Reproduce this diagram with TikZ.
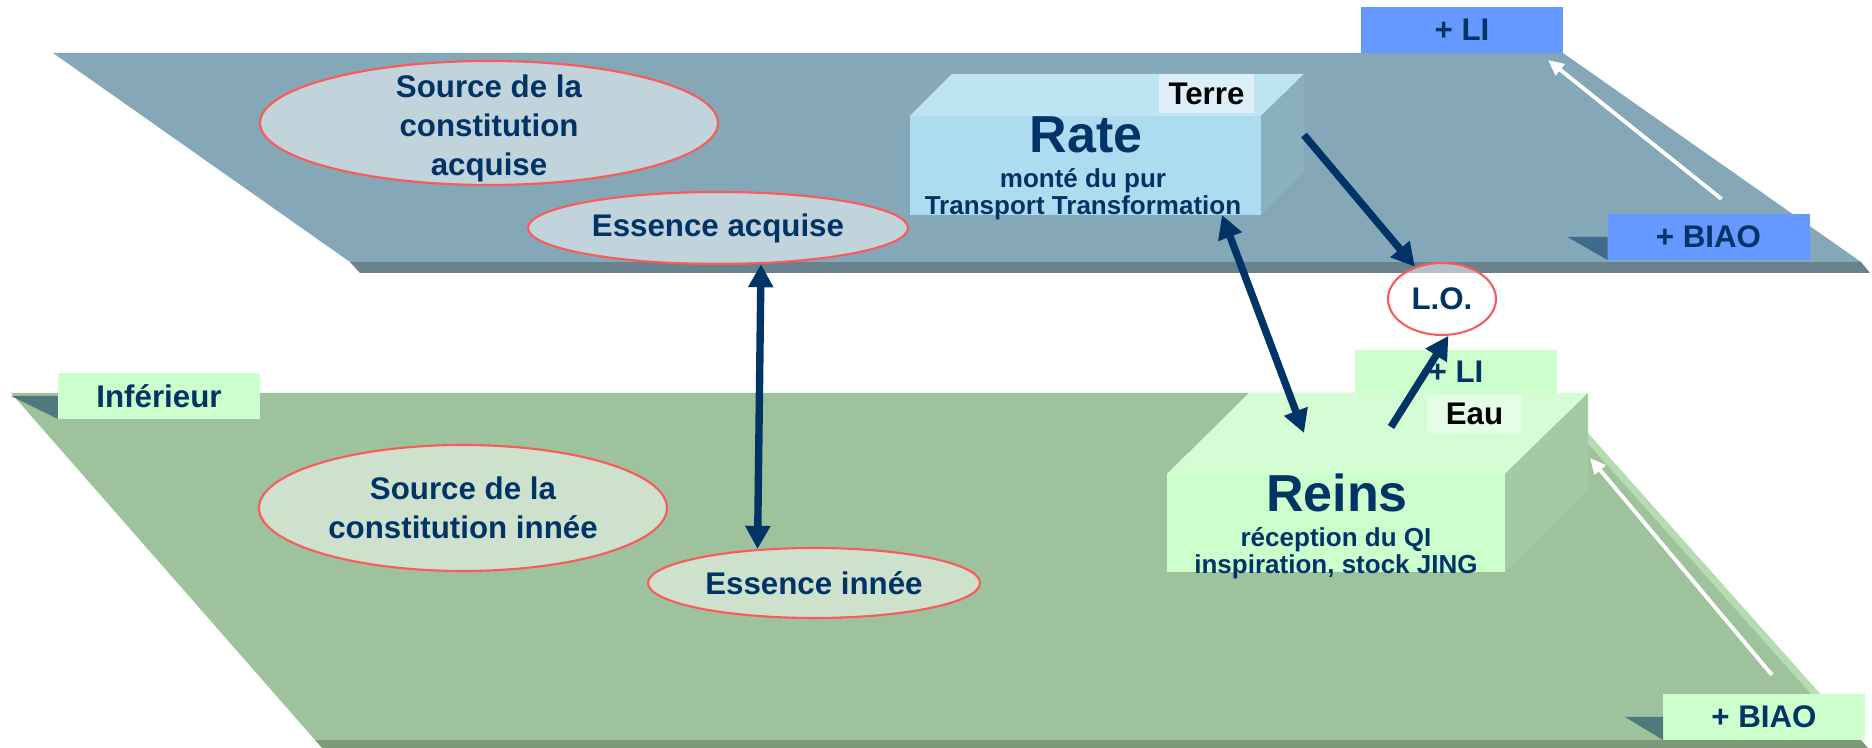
\documentclass[tikz,border=0pt]{standalone}
\usepackage{fontspec}
\setmainfont{Liberation Sans}
\usetikzlibrary{arrows.meta,shapes.geometric}
\definecolor{navyink}{RGB}{0,51,102}
\definecolor{deckgrey}{RGB}{132,168,184}
\definecolor{deckshade}{RGB}{104,130,142}
\definecolor{meadow}{RGB}{158,195,156}
\definecolor{meadowshade}{RGB}{122,154,120}
\definecolor{meadowrim}{RGB}{182,220,178}
\definecolor{iceblue}{RGB}{173,220,240}
\definecolor{icetop}{RGB}{190,227,243}
\definecolor{iceside}{RGB}{138,176,192}
\definecolor{frost}{RGB}{221,239,248}
\definecolor{cornflower}{RGB}{102,153,255}
\definecolor{duskblue}{RGB}{64,106,138}
\definecolor{mint}{RGB}{204,255,204}
\definecolor{minttop}{RGB}{212,253,212}
\definecolor{sage}{RGB}{163,203,161}
\definecolor{mintwhite}{RGB}{229,252,229}
\definecolor{pinetone}{RGB}{78,122,126}
\definecolor{coral}{RGB}{250,90,90}

\begin{document}
\begin{tikzpicture}[
    font=\fontsize{8.9}{11.1}\selectfont\bfseries,
    >={Triangle[length=6.6pt,width=6.8pt]},
    zone/.style={ellipse,draw=coral,line width=0.6pt,fill=white,fill opacity=0.5,
      text opacity=1,text=navyink,inner sep=0pt,align=center},
    tag/.style={rectangle,inner sep=0pt,outer sep=0pt,minimum width=2.02cm,
      minimum height=0.46cm,text=navyink},
    face/.style={rectangle,inner sep=0pt,outer sep=0pt},
    title/.style={text=navyink,font=\fontsize{14.8}{16}\selectfont\bfseries,anchor=base},
    note/.style={text=navyink,font=\fontsize{7.4}{7.7}\selectfont\bfseries,align=center},
    flow/.style={->,line width=2.1pt,navyink},
    rise/.style={-{Triangle[length=4.5pt,width=4pt]},line width=1.1pt,white},
  ]
  \useasboundingbox (0,0) rectangle (18.72,7.48);

  % Upper plane (acquis)
  \fill[deckshade] (3.50,4.86) -- (18.61,4.86) -- (18.70,4.75) -- (3.60,4.75) -- cycle;
  \fill[deckgrey] (0.53,6.95) -- (15.63,6.95) -- (18.61,4.86) -- (3.50,4.86) -- cycle;

  \node[tag,fill=cornflower] (topli) at (14.62,7.18) {+ LI};
  \node[tag,fill=cornflower] (topbiao) at (17.085,5.11) {+ BIAO};
  \fill[duskblue] ([xshift=-0.4cm]topbiao.west) -- (topbiao.west) -- (topbiao.south west) -- cycle;
  \draw[rise] ([xshift=1.3mm,yshift=1.5mm]topbiao.north)
    -- ([xshift=-1.5mm,yshift=-0.7mm]topli.south east);

  \node[zone,minimum width=4.58cm,minimum height=1.24cm] (srcacq) at (4.89,6.25) {};
  \node[text=navyink,align=center] (srcacq-text) at (4.89,6.20)
    {Source de la\\constitution\\acquise};
  \node[zone,minimum width=3.80cm,minimum height=0.72cm] (essacq) at (7.18,5.20)
    {Essence acquise};

  % Rate block
  \node[face,fill=iceblue,minimum width=3.51cm,minimum height=0.99cm] (rate) at (10.855,5.825) {};
  \fill[icetop] (rate.north west) -- ++(0.42,0.42) -- ++(3.52,0) -- (rate.north east) -- cycle;
  \fill[iceside] (rate.north east) -- ++(0.43,0.42) -- ++(0,-0.98) -- (rate.south east) -- cycle;
  \node[face,fill=frost,minimum width=0.95cm,minimum height=0.39cm] (terre) at (12.065,6.545) {Terre};
  \node[title] (rate-name) at (10.86,5.95) {Rate};
  \node[note] (rate-note) at (10.83,5.54) {monté du pur\\Transport Transformation};

  % Lower plane (inne)
  \fill[meadowshade] (3.15,0.08) -- (18.61,0.08) -- (18.68,0) -- (3.22,0) -- cycle;
  \fill[meadow] (0.11,3.55) -- (15.52,3.55) -- (18.61,0.08) -- (3.15,0.08) -- cycle;
  \fill[meadowrim] (15.52,3.55) -- (18.61,0.08) -- (18.52,0.08) -- (15.43,3.55) -- cycle;

  \node[tag,fill=mint] (inferieur) at (1.59,3.52) {Inférieur};
  \fill[pinetone] ([xshift=-0.47cm]inferieur.west) -- (inferieur.west) -- (inferieur.south west) -- cycle;
  \node[tag,fill=mint] (lowbiao) at (17.64,0.31) {+ BIAO};
  \fill[pinetone] ([xshift=-0.38cm]lowbiao.west) -- (lowbiao.west) -- (lowbiao.south west) -- cycle;
  \node[tag,fill=mint,minimum height=0.43cm] (lowli) at (14.56,3.765) {+ LI};

  % Reins block
  \node[face,fill=mint,minimum width=3.38cm,minimum height=0.98cm] (reins) at (13.36,2.25) {};
  \fill[minttop] (reins.north west) -- ++(0.82,0.81) -- ++(3.39,0) -- (reins.north east) -- cycle;
  \fill[sage] (reins.north east) -- ++(0.83,0.81) -- ++(0,-0.96) -- (reins.south east) -- cycle;
  \node[face,fill=mintwhite,minimum width=0.95cm,minimum height=0.38cm] (eau) at (14.745,3.34) {Eau};
  \node[title] (reins-name) at (13.37,2.36) {Reins};
  \node[note] (reins-note) at (13.36,1.95) {réception du QI\\inspiration, stock JING};
  \draw[rise] ([xshift=0.8mm,yshift=1.9mm]lowbiao.north)
    -- ([xshift=8.5mm,yshift=1.6mm]reins.north east);

  \node[zone,minimum width=4.08cm,minimum height=1.26cm] (srcinn) at (4.63,2.40)
    {Source de la\\constitution innée};
  \node[zone,minimum width=3.32cm,minimum height=0.70cm] (essinn) at (8.14,1.65)
    {Essence innée};
  \node[zone,minimum width=1.08cm,minimum height=0.72cm] (lo) at (14.42,4.49) {L.O.};

  % Connections
  \coordinate (rateout) at (13.04,6.13);
  \coordinate (reinsin) at (13.04,3.15);
  \coordinate (reinsout) at (13.91,3.21);
  \draw[flow,<->] (essacq.-40) -- (essinn.149);
  \draw[flow,<->] ([xshift=-0.39cm]rate.south east) -- (reinsin);
  \draw[flow] (rateout) -- (lo);
  \draw[flow] (reinsout) -- (lo.-80);
\end{tikzpicture}
\end{document}
